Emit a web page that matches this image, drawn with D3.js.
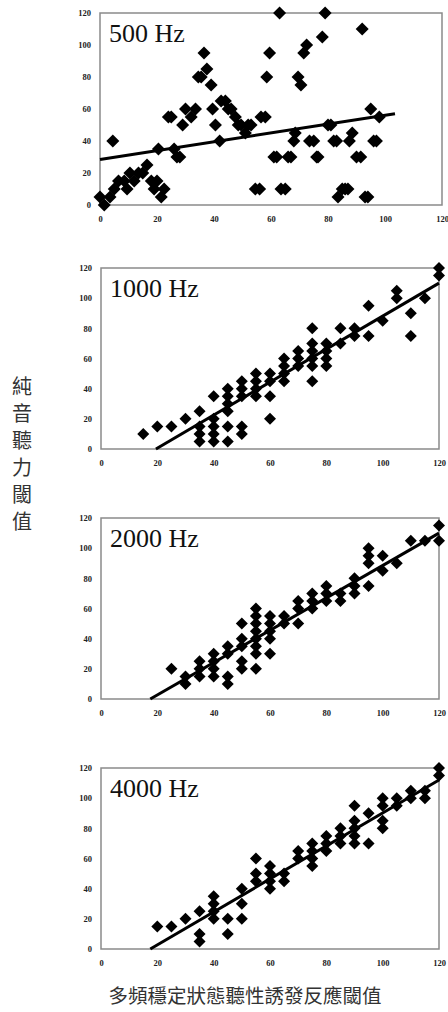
<!DOCTYPE html>
<html>
<head>
<meta charset="utf-8">
<script src="https://cdn.jsdelivr.net/npm/d3@7"></script>
<style>
  body { margin: 0; background: #fff; }
  svg { display: block; }
</style>
</head>
<body>
<svg id="chart"></svg>
<script>
const size = {w: 448, h: 1012};

// values: [x, y]
const hz500 = [
  [0,5],[1.5,0],[3.5,5],[4.5,40],[5,10],[6.5,15],[8.5,15],[9.5,10],[10.5,20],[12,15],
  [13.5,20],[15,20],[16.5,25],[18,15],[19,10],[20,15],[20.5,35],[21.5,5],[22.5,10],[24,55],
  [25,55],[26,35],[27,30],[28,30],[29,50],[30,60],[32,55],[33.5,60],[34.5,80],[35.5,80],
  [36.5,95],[37.5,85],[39,75],[39.5,60],[40.5,50],[42,40],[42.5,65],[44,65],[45,60],[46,60],
  [47.5,55],[48.5,50],[49.5,50],[51,45],[52,50],[53,50],[54.5,10],[56,10],[56.5,55],[58,55],
  [58.5,80],[59.5,95],[61,30],[62,30],[63,120],[63.5,10],[65,10],[66,30],[67,30],[68,40],
  [68.5,45],[69.5,80],[70.5,75],[71.5,95],[72.5,100],[73.5,40],[75,40],[76,30],[76.5,30],[78,105],
  [79,120],[80,50],[81,50],[82,40],[83,40],[83.5,5],[85,10],[86,10],[87,10],[87.5,40],
  [88.5,45],[90,30],[91.5,30],[92,110],[93,5],[94,5],[95,60],[96,40],[97,40],[98,55]
];

const hz1000 = [
  [15,10],[20,15],[25,15],[30,20],
  [35,25],[35,15],[35,10],[35,5],
  [40,35],[40,20],[40,15],[40,10],[40,5],
  [45,40],[45,35],[45,30],[45,25],[45,15],[45,5],
  [50,45],[50,40],[50,35],[50,15],[50,10],
  [55,50],[55,45],[55,40],[55,35],
  [60,50],[60,45],[60,35],[60,20],
  [65,60],[65,55],[65,50],[65,45],
  [70,65],[70,60],[70,55],
  [75,80],[75,70],[75,65],[75,60],[75,55],[75,45],
  [80,70],[80,65],[80,60],[80,55],
  [85,80],[85,70],[90,80],[90,75],[95,95],[95,75],[100,85],
  [105,105],[105,100],[110,90],[110,75],[115,100],[120,120],[120,115]
];

const hz2000 = [
  [25,20],[30,15],[30,10],
  [35,25],[35,20],[35,15],
  [40,30],[40,25],[40,20],[40,15],
  [45,35],[45,30],[45,15],[45,10],
  [50,50],[50,40],[50,35],[50,25],[50,20],
  [55,60],[55,55],[55,50],[55,45],[55,40],[55,35],[55,30],[55,20],
  [60,55],[60,50],[60,45],[60,40],[60,30],
  [65,55],[65,50],[70,65],[70,60],[70,50],
  [75,70],[75,65],[75,60],[80,75],[80,70],[80,65],
  [85,70],[85,65],[90,80],[90,75],[90,70],
  [95,100],[95,95],[95,90],[95,75],[100,95],[100,85],
  [105,90],[110,105],[115,105],[120,115],[120,105]
];

const hz4000 = [
  [20,15],[25,15],[30,20],
  [35,25],[35,10],[35,5],
  [40,35],[40,30],[40,25],[40,20],
  [45,20],[45,10],[50,40],[50,30],[50,20],
  [55,60],[55,50],[55,45],[60,55],[60,50],[60,45],[60,40],
  [65,50],[65,45],[70,65],[70,60],
  [75,70],[75,65],[75,60],[75,55],[80,75],[80,70],[80,65],
  [85,80],[85,75],[85,70],[90,95],[90,85],[90,80],[90,75],[90,70],
  [95,90],[95,70],[100,100],[100,95],[100,85],[100,80],
  [105,100],[105,95],[110,105],[110,100],[115,105],[115,100],[120,120],[120,115]
];

// fitted lines, end points
const trend500 = [[0,28.5],[103.5,57]];
const trend1000 = [[19.5,0],[120,110]];
const trend2000 = [[17.5,0],[120,110]];
const trend4000 = [[17.5,0],[120,112]];

const panelTitles = ['500 Hz', '1000 Hz', '2000 Hz', '4000 Hz'];
const xTicks = [0, 20, 40, 60, 80, 100, 120];
const yTicks = [0, 20, 40, 60, 80, 100, 120];
const yTitle = ['純', '音', '聽', '力', '閾', '值'];
const xTitle = '多頻穩定狀態聽性誘發反應閾值';

const panels = [
  {title: panelTitles[0], pts: hz500, trend: trend500, l: 100, r: 442, t: 13, b: 205, s: 6.5},
  {title: panelTitles[1], pts: hz1000, trend: trend1000, l: 101, r: 439, t: 268, b: 449, s: 6},
  {title: panelTitles[2], pts: hz2000, trend: trend2000, l: 101, r: 439, t: 518, b: 699, s: 6},
  {title: panelTitles[3], pts: hz4000, trend: trend4000, l: 101, r: 439, t: 768, b: 949, s: 6}
];

const svg = d3.select('svg#chart')
    .attr('width', size.w)
    .attr('height', size.h);

const tickFont = '"Liberation Serif", serif';

panels.forEach(function(p) {
    let x = d3.scaleLinear().domain([0, 120]).range([p.l, p.r]);
    let y = d3.scaleLinear().domain([0, 120]).range([p.b, p.t]);

    let g = svg.append('g');

    // frame
    g.append('rect')
        .attr('x', p.l)
        .attr('y', p.t)
        .attr('width', p.r - p.l)
        .attr('height', p.b - p.t)
        .attr('fill', 'none')
        .attr('stroke', '#8a8a8a')
        .attr('stroke-width', 1.5);

    // axes, labels only
    let xAxis = g.append('g')
        .attr('transform', `translate(0, ${p.b})`)
        .call(d3.axisBottom(x).tickValues(xTicks).tickSize(0).tickPadding(11));
    let yAxis = g.append('g')
        .attr('transform', `translate(${p.l}, 0)`)
        .call(d3.axisLeft(y).tickValues(yTicks).tickSize(0).tickPadding(9));

    [xAxis, yAxis].forEach(a => {
        a.select('.domain').remove();
        a.selectAll('text')
            .attr('font-family', tickFont)
            .attr('font-weight', 'bold')
            .attr('font-size', 8.5)
            .attr('fill', '#222');
    });

    // diamonds
    let s = p.s;
    g.selectAll('path.pt')
        .data(p.pts)
        .join('path')
        .classed('pt', true)
        .attr('transform', d => `translate(${x(d[0])}, ${y(d[1])})`)
        .attr('d', `M0,${-s}L${s},0L0,${s}L${-s},0Z`)
        .attr('fill', '#000');

    // fitted line
    g.append('path')
        .datum(p.trend)
        .attr('d', d3.line().x(d => x(d[0])).y(d => y(d[1])))
        .attr('stroke', '#000')
        .attr('stroke-width', 3)
        .attr('fill', 'none');

    // panel title
    g.append('text')
        .attr('x', x(0) + 9)
        .attr('y', p.t + 29)
        .attr('font-family', tickFont)
        .attr('font-size', 26)
        .attr('fill', '#111')
        .text(p.title);
});

// y title, one character per line
svg.append('g')
    .selectAll('text')
    .data(yTitle)
    .join('text')
    .attr('x', 22)
    .attr('y', (d, i) => 394 + i * 27)
    .attr('text-anchor', 'middle')
    .attr('font-family', '"Noto Sans CJK TC", sans-serif')
    .attr('font-size', 20)
    .attr('fill', '#333')
    .text(d => d);

// x title
svg.append('text')
    .attr('x', 245)
    .attr('y', 1003)
    .attr('text-anchor', 'middle')
    .attr('font-family', '"Noto Sans CJK TC", sans-serif')
    .attr('font-size', 19.5)
    .attr('fill', '#333')
    .text(xTitle);
</script>
</body>
</html>
